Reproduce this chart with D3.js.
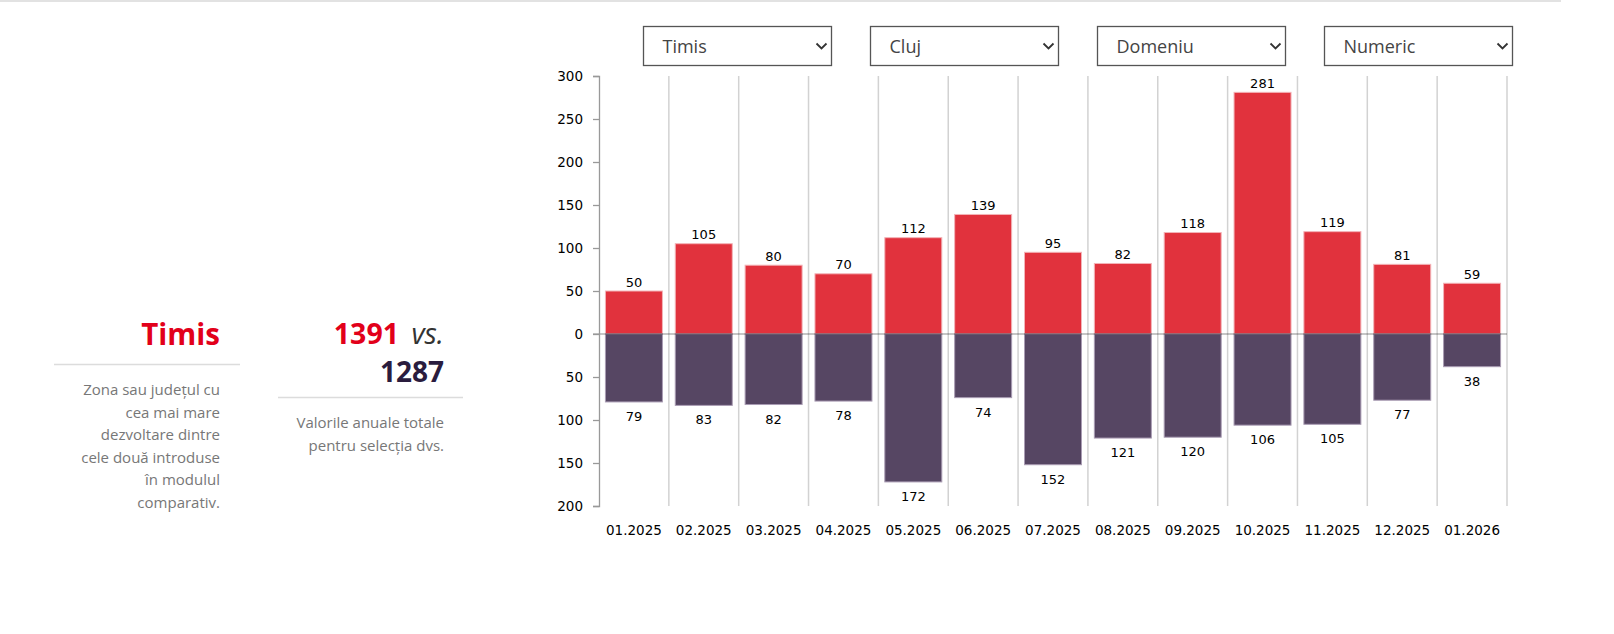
<!DOCTYPE html>
<html><head><meta charset="utf-8">
<script src="https://cdn.jsdelivr.net/npm/d3@7"></script>
<style>
body{margin:0;background:#fff;}
svg{display:block;}
</style></head><body>
<svg id="c" width="1614" height="634"></svg>
<script>
// ---- data ----
const months = ["01.2025","02.2025","03.2025","04.2025","05.2025","06.2025","07.2025","08.2025","09.2025","10.2025","11.2025","12.2025","01.2026"];
const timisValues = [50,105,80,70,112,139,95,82,118,281,119,81,59];
const clujValues  = [79,83,82,78,172,74,152,121,120,106,105,77,38];
const yTicks = [300,250,200,150,100,50,0,-50,-100,-150,-200];
const dropdownLabels = ["Timis","Cluj","Domeniu","Numeric"];
const leaderName = "Timis";
const leaderDesc = ["Zona sau județul cu","cea mai mare","dezvoltare dintre","cele două introduse","în modulul","comparativ."];
const totalsDesc = ["Valorile anuale totale","pentru selecția dvs."];

const svg = d3.select("#c");
const RED = "#e1323d", PURPLE = "#564663";

// top border
svg.append("line").attr("x1",0).attr("x2",1561).attr("y1",1).attr("y2",1)
  .attr("stroke","#e2e2e2").attr("stroke-width",2);

// ---- left panel ----
const sans = "'Open Sans', 'Noto Sans', sans-serif";
svg.append("text").attr("x",220).attr("y",345).attr("text-anchor","end")
  .attr("font-family",sans).attr("font-weight",700).attr("font-size",29.5)
  .attr("fill","#e2001a").text(leaderName);
svg.append("line").attr("x1",54).attr("x2",240).attr("y1",364.5).attr("y2",364.5)
  .attr("stroke","#dcdcdc").attr("stroke-width",1.5);
const ld = svg.append("text").attr("text-anchor","end")
  .attr("font-family",sans).attr("font-size",15).attr("fill","#777");
ld.selectAll("tspan").data(leaderDesc).join("tspan")
  .attr("x",220).attr("y",(d,i)=>395+i*22.5).text(d=>d);

// totals block
const tA = d3.sum(timisValues), tB = d3.sum(clujValues);
const t1 = svg.append("text").attr("x",444).attr("y",343.5).attr("text-anchor","end")
  .attr("font-family",sans).attr("font-size",28.5);
t1.append("tspan").attr("font-weight",700).attr("fill","#e2001a").text(tA + " ");
t1.append("tspan").attr("dx",5).attr("font-style","italic").attr("fill","#333").text("vs.");
svg.append("text").attr("x",444).attr("y",381.5).attr("text-anchor","end")
  .attr("font-family",sans).attr("font-size",28).attr("font-weight",700)
  .attr("fill","#2a1c3e").text(tB);
svg.append("line").attr("x1",278).attr("x2",463).attr("y1",397.5).attr("y2",397.5)
  .attr("stroke","#dcdcdc").attr("stroke-width",1.5);
const td = svg.append("text").attr("text-anchor","end")
  .attr("font-family",sans).attr("font-size",15).attr("fill","#777");
td.selectAll("tspan").data(totalsDesc).join("tspan")
  .attr("x",444).attr("y",(d,i)=>428+i*22.5).text(d=>d);

// ---- dropdowns ----
const dd = svg.append("g").selectAll("g").data(dropdownLabels).join("g")
  .attr("transform",(d,i)=>`translate(${643.5+i*227},26.5)`);
dd.append("rect").attr("width",188).attr("height",39).attr("fill","#fff")
  .attr("stroke","#555").attr("stroke-width",1.3);
dd.append("text").attr("x",19).attr("y",26).attr("font-family",sans)
  .attr("font-size",18).attr("fill","#444").text(d=>d);
dd.append("path").attr("d","M173,17L178,22L183,17").attr("fill","none")
  .attr("stroke","#333").attr("stroke-width",1.8);

// ---- chart ----
const x = d3.scaleBand().domain(months).range([599,1507]).paddingInner(0.184).paddingOuter(0.092);
const y = d3.scaleLinear().domain([-200,300]).range([506,76]);
const chartFont = "Verdana, 'DejaVu Sans', sans-serif";

// vertical gridlines at band boundaries
const bounds = months.slice(1).map(m => x(m) - x.step()*x.paddingInner()/2);
bounds.push(1507);
svg.append("g").selectAll("line").data(bounds).join("line")
  .attr("x1",d=>d).attr("x2",d=>d).attr("y1",y(300)).attr("y2",y(-200))
  .attr("stroke","#d2d2d2").attr("stroke-width",1.5);

// bars
svg.append("g").selectAll("rect").data(timisValues).join("rect")
  .attr("x",(d,i)=>x(months[i])).attr("width",x.bandwidth())
  .attr("y",d=>y(d)).attr("height",d=>y(0)-y(d))
  .attr("fill",RED).attr("stroke","#f3b3b7").attr("stroke-width",1);
svg.append("g").selectAll("rect").data(clujValues).join("rect")
  .attr("x",(d,i)=>x(months[i])).attr("width",x.bandwidth())
  .attr("y",y(0)).attr("height",d=>y(-d)-y(0))
  .attr("fill",PURPLE).attr("stroke","#a99cb3").attr("stroke-width",1);

// zero line
svg.append("line").attr("x1",593).attr("x2",1507).attr("y1",y(0)).attr("y2",y(0))
  .attr("stroke","rgba(0,0,0,0.3)").attr("stroke-width",1.3);

// value labels
svg.append("g").selectAll("text").data(timisValues).join("text")
  .attr("x",(d,i)=>x(months[i])+x.bandwidth()/2).attr("y",d=>y(d)-4.5)
  .attr("text-anchor","middle").attr("font-family",chartFont).attr("font-size",13)
  .attr("fill","#000").text(d=>d);
svg.append("g").selectAll("text").data(clujValues).join("text")
  .attr("x",(d,i)=>x(months[i])+x.bandwidth()/2).attr("y",d=>y(-d)+19)
  .attr("text-anchor","middle").attr("font-family",chartFont).attr("font-size",13)
  .attr("fill","#000").text(d=>d);

// y axis
const yAxis = d3.axisLeft(y).tickValues(yTicks).tickFormat(d=>Math.abs(d)).tickSize(6).tickPadding(10);
const ga = svg.append("g").attr("transform","translate(599,0)").call(yAxis);
ga.selectAll("path,line").attr("stroke","#999").attr("stroke-width",1.3);
ga.selectAll("text").attr("font-family",chartFont).attr("font-size",13.5).attr("fill","#000");

// x labels
const xAxis = d3.axisBottom(x).tickSize(0).tickPadding(0);
const gx = svg.append("g").attr("transform","translate(0,506)").call(xAxis);
gx.select(".domain").remove();
gx.selectAll("text").attr("font-family",chartFont).attr("font-size",13.5).attr("fill","#000")
  .attr("dy",null).attr("y",29);
</script>
</body></html>
